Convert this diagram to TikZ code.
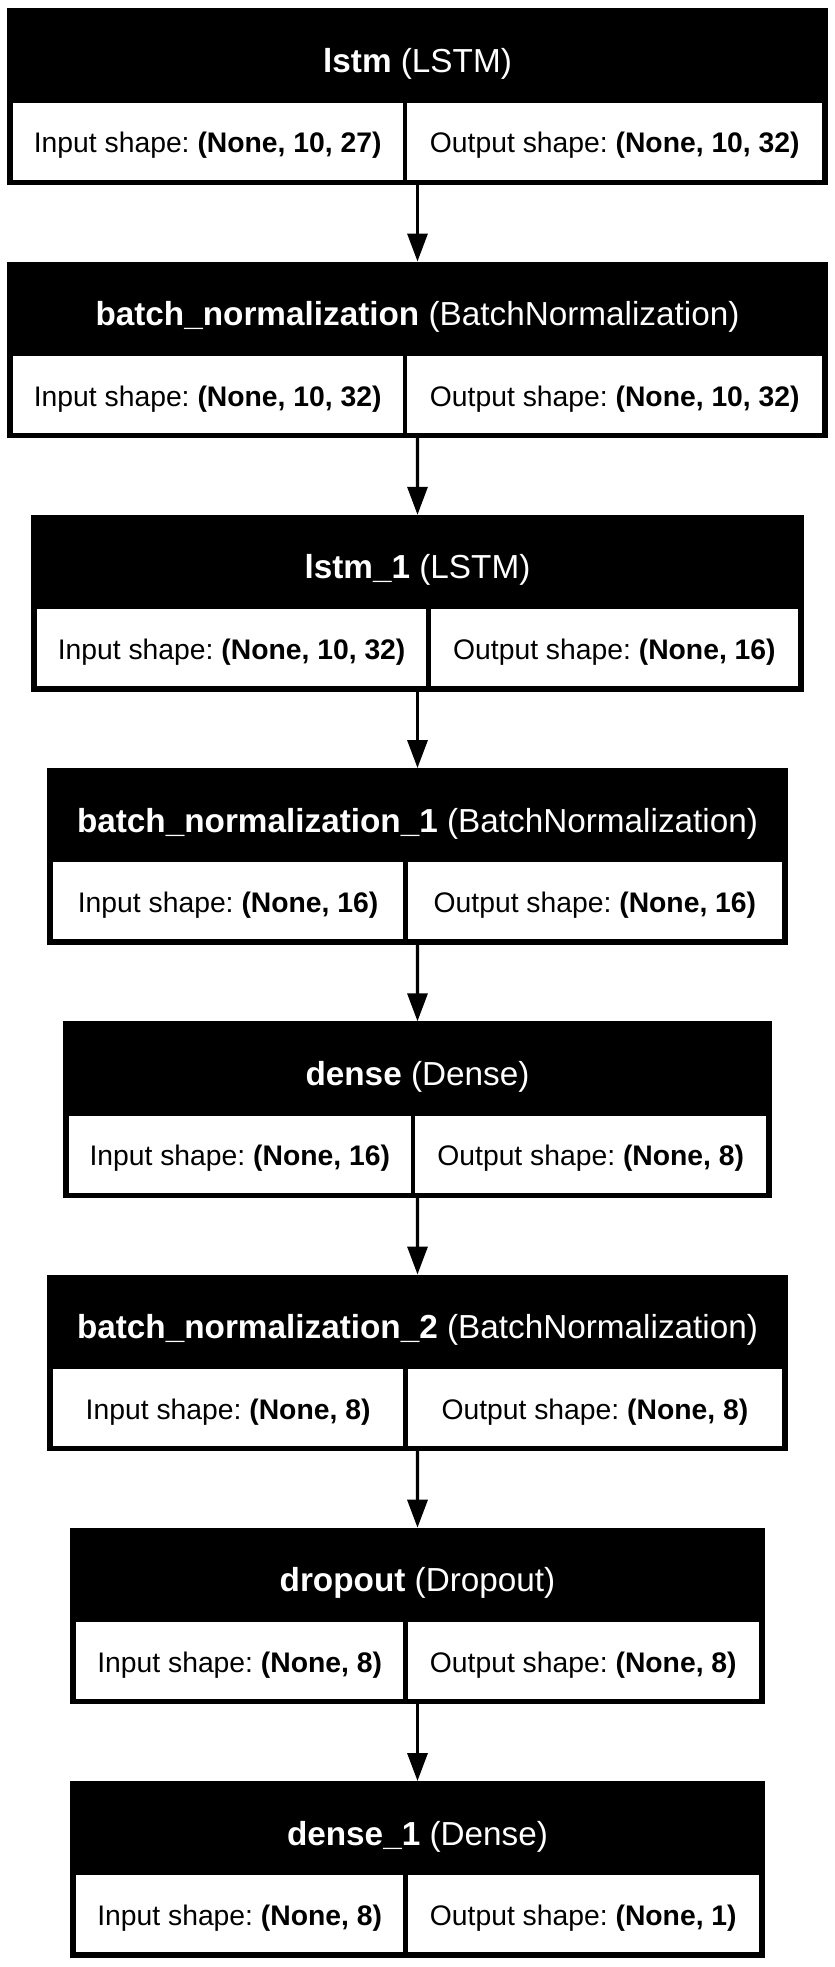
\documentclass[tikz,border=0pt]{standalone}
\usepackage{fontspec}
\setmainfont{Liberation Sans}
\usetikzlibrary{arrows.meta}
\frenchspacing
\tikzset{
 blk/.style={fill=black, draw=none, inner sep=0pt, outer sep=0pt, anchor=north west},
 cellbox/.style={fill=white, draw=none, inner sep=0pt, outer sep=0pt, anchor=north west},
 headtxt/.style={text=white, anchor=base, inner sep=0pt, font=\fontsize{16.65}{20}\selectfont\frenchspacing},
 celltxt/.style={text=black, anchor=base, inner sep=0pt, font=\fontsize{14.15}{17}\selectfont\frenchspacing},
 flow/.style={line width=1.65pt, -{Triangle[length=14pt,width=10pt]}}
}
% #1 name, #2 top, #3 left, #4 right, #5 divider centre, #6 layer name, #7 layer type, #8 input, #9 output
\newcommand\layerbox[9]{%
 \node[blk, minimum width={(#4-#3)*0.5}, minimum height={176.7*0.5}] (#1) at (#3,#2) {};
 \node[cellbox, minimum width={(#5-2.3-#3-6)*0.5}, minimum height={76.9*0.5}] (#1in) at (#3+6,#2+94.4) {};
 \node[cellbox, minimum width={(#4-6-#5-2.3)*0.5}, minimum height={76.9*0.5}] (#1out) at (#5+2.3,#2+94.4) {};
 \node[headtxt] (#1t) at ({(#3+#4)/2},#2+64) {\textbf{#6} (#7)};
 \node[celltxt] (#1ti) at ({(#3+6+#5-2.3)/2},#2+144.5) {Input shape: \textbf{#8}};
 \node[celltxt] (#1to) at ({(#5+2.3+#4-6)/2},#2+144.5) {Output shape: \textbf{#9}};
}
\begin{document}
\begin{tikzpicture}[x=0.5pt,y=-0.5pt]
\useasboundingbox (0,0) rectangle (835,1967);
\layerbox{b1}{8.3}{6.7}{828.3}{405}{lstm}{LSTM}{(None, 10, 27)}{(None, 10, 32)}
\layerbox{b2}{261.5}{6.7}{828.3}{405}{batch\_normalization}{BatchNormalization}{(None, 10, 32)}{(None, 10, 32)}
\layerbox{b3}{514.8}{31}{804}{428.5}{lstm\_1}{LSTM}{(None, 10, 32)}{(None, 16)}
\layerbox{b4}{768.0}{47}{788}{405.5}{batch\_normalization\_1}{BatchNormalization}{(None, 16)}{(None, 16)}
\layerbox{b5}{1021.3}{62.8}{772.2}{413}{dense}{Dense}{(None, 16)}{(None, 8)}
\layerbox{b6}{1274.5}{47}{788}{405.5}{batch\_normalization\_2}{BatchNormalization}{(None, 8)}{(None, 8)}
\layerbox{b7}{1527.7}{70.2}{764.8}{405.5}{dropout}{Dropout}{(None, 8)}{(None, 8)}
\layerbox{b8}{1781.0}{70.2}{764.8}{405.5}{dense\_1}{Dense}{(None, 8)}{(None, 1)}
\draw[flow] (b1.south) -- (b2.north);
\draw[flow] (b2.south) -- (b3.north);
\draw[flow] (b3.south) -- (b4.north);
\draw[flow] (b4.south) -- (b5.north);
\draw[flow] (b5.south) -- (b6.north);
\draw[flow] (b6.south) -- (b7.north);
\draw[flow] (b7.south) -- (b8.north);
\end{tikzpicture}
\end{document}
